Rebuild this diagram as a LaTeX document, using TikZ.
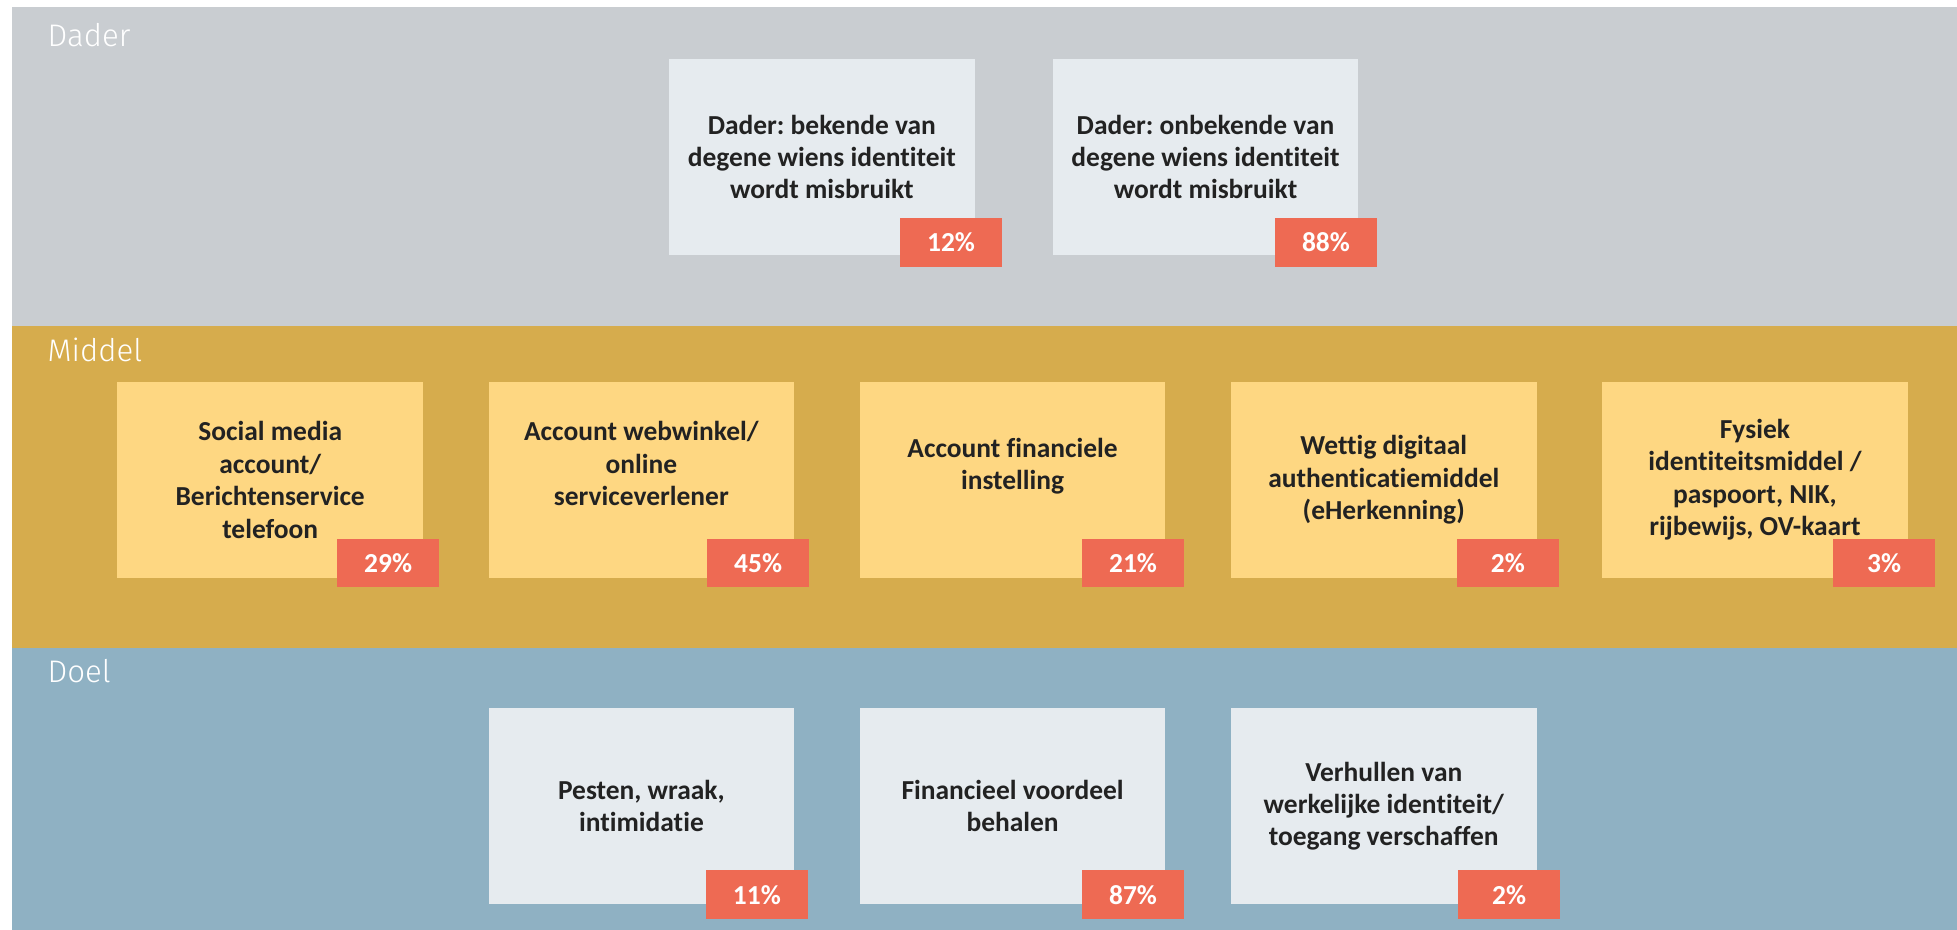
\documentclass[tikz,border=0pt]{standalone}
\usepackage{fontspec}
\setmainfont{Carlito}[Ligatures=NoCommon]
\newfontfamily\bandfont{Fira Sans Light}
\frenchspacing
\usetikzlibrary{
  positioning,
  chains
}
\definecolor{daderGrey}{HTML}{C9CDD1}
\definecolor{middelGold}{HTML}{D6AC4D}
\definecolor{doelBlue}{HTML}{8FB1C3}
\definecolor{paleGrey}{HTML}{E6EBEF}
\definecolor{paleYellow}{HTML}{FED782}
\definecolor{coral}{HTML}{EE6A53}
\definecolor{inkGrey}{HTML}{222222}
\tikzset{
  band label/.style={
    anchor=base west,
    inner sep=0pt,
    text=white,
    font=\bandfont\fontsize{25}{30}\selectfont
  },
  card/.style={
    minimum width=245pt,
    minimum height=157pt,
    inner sep=0pt,
    align=center,
    text=inkGrey,
    font=\bfseries\fontsize{22}{26}\selectfont
  },
  badge/.style={
    fill=coral,
    text=white,
    minimum width=82pt,
    minimum height=39pt,
    inner sep=0pt,
    anchor=south east,
    font=\bfseries\fontsize{22}{26}\selectfont
  }
}

\begin{document}
\begin{tikzpicture}[x=1pt, y=-1pt]
  \useasboundingbox (0,0) rectangle (1568,745);

  % bands
  \fill[daderGrey]  (10,6)   rectangle (1568,261);
  \fill[middelGold] (10,261) rectangle (1568,519);
  \fill[doelBlue]   (10,519) rectangle (1568,745);
  \node[band label] (dader)  at (38,37.5) {Dader};
  \node[band label] (middel) at (38,290)  {Middel};
  \node[band label] (doel)   at (38,547)  {Doel};

  % dader
  \node[card, fill=paleGrey] (d1) at (658.5,125.8)
    {Dader: bekende van\\degene wiens identiteit\\wordt misbruikt};
  \node[card, fill=paleGrey, right=62pt of d1] (d2)
    {Dader: onbekende van\\degene wiens identiteit\\wordt misbruikt};
  \node[badge] (d1pct) at ([xshift=22pt,yshift=-9.5pt]d1.south east) {12\%};
  \node[badge] (d2pct) at ([xshift=15pt,yshift=-9.5pt]d2.south east) {88\%};

  % middel
  \begin{scope}[shift={(216.5,384.5)}, start chain, node distance=52pt]
    \foreach \i/\txt/\pct/\ov in {
      1/{Social media\\account/\\Berichtenservice\\telefoon}/29/13,
      2/{Account webwinkel/\\online\\serviceverlener\\\mbox{}}/45/12,
      3/{Account financiele\\instelling\\\mbox{}}/21/15,
      4/{Wettig digitaal\\authenticatiemiddel\\(eHerkenning)}/2/18,
      5/{Fysiek\\identiteitsmiddel /\\paspoort, NIK,\\rijbewijs, OV-kaart}/3/22}{
      \node[card, fill=paleYellow, on chain] (m\i) {\txt};
      \node[badge] (m\i pct) at ([xshift=\ov pt,yshift=-7.5pt]m\i.south east) {\pct\%};
    }
  \end{scope}

  % doel
  \node[card, fill=paleGrey, below=104pt of m2] (p1)
    {Pesten, wraak,\\intimidatie};
  \node[card, fill=paleGrey, below=104pt of m3] (p2)
    {Financieel voordeel\\behalen};
  \node[card, fill=paleGrey, below=104pt of m4] (p3)
    {Verhullen van\\werkelijke identiteit/\\toegang verschaffen};
  \node[badge] (p1pct) at ([xshift=11pt,yshift=-12pt]p1.south east) {11\%};
  \node[badge] (p2pct) at ([xshift=15pt,yshift=-12pt]p2.south east) {87\%};
  \node[badge] (p3pct) at ([xshift=19pt,yshift=-12pt]p3.south east) {2\%};
\end{tikzpicture}
\end{document}
